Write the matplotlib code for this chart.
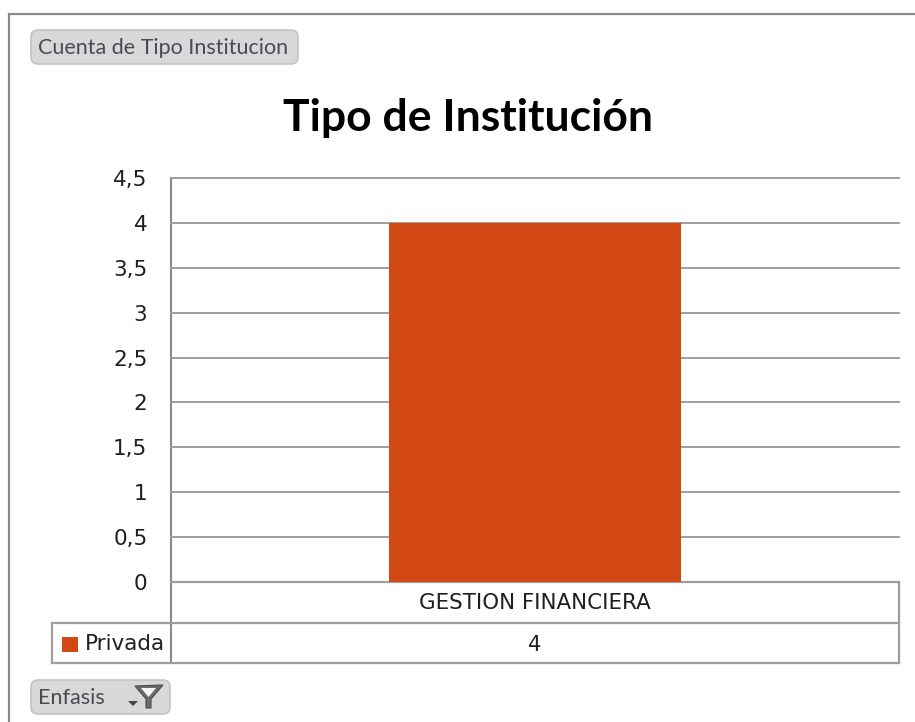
import matplotlib
matplotlib.use('Agg')
import matplotlib.pyplot as plt
from matplotlib.patches import FancyBboxPatch, Rectangle, Polygon

categories = ['GESTION FINANCIERA']
series_name = 'Privada'
values = [4]
y_ticks = [0, 0.5, 1, 1.5, 2, 2.5, 3, 3.5, 4, 4.5]
y_tick_labels = ['0', '0,5', '1', '1,5', '2', '2,5', '3', '3,5', '4', '4,5']

W, H = 915, 722
BAR_COLOR = '#D14815'
LINE = '#9E9E9E'
TEXT = '#1F1F1F'
BTN_TEXT = '#4A4A55'

plt.rcParams['font.family'] = ['DejaVu Sans']

fig = plt.figure(figsize=(W / 100, H / 100), dpi=100, facecolor='white')

# capa de fondo en pixeles: marco, tabla y botones
bg = fig.add_axes([0, 0, 1, 1], zorder=0)
bg.set_xlim(0, W)
bg.set_ylim(H, 0)
bg.axis('off')

bg.plot([9, 9, W], [H, 14, 14], color='#8A8A8A', lw=1.6, solid_joinstyle='miter')


def button(x0, y0, x1, y1, label):
    bg.add_patch(FancyBboxPatch((x0 + 5, y0 + 5), x1 - x0 - 10, y1 - y0 - 10,
                                boxstyle='round,pad=5,rounding_size=7',
                                fc='#D8D8D8', ec='#C4C4C4', lw=1.2))
    bg.text(x0 + 7, (y0 + y1) / 2 + 0.5, label, fontsize=15.5, family='Lato',
            color=BTN_TEXT, va='center', ha='left')


button(31, 30, 298, 64, 'Cuenta de Tipo Institucion')
button(31, 680, 170, 714, 'Enfasis')

# icono del filtro
bg.add_patch(Polygon([[135, 686], [163, 685], [151, 699], [151, 708], [146, 708], [146, 699]],
                     closed=True, fc='#6A6A6A', ec='#4A4A4A', lw=0.8))
bg.add_patch(Polygon([[141, 688], [156, 688], [148.5, 697]], closed=True, fc='#F4F4F4', ec='none'))
bg.add_patch(Polygon([[128, 701], [138, 701], [133, 706]], closed=True, fc='#444444', ec='none'))

# tabla de datos
bg.plot([171, 171], [178, 663], color='#8A8A8A', lw=1.5)
bg.plot([899, 899], [582, 663], color=LINE, lw=1.6)
bg.plot([171, 899], [582, 582], color=LINE, lw=1.6)
bg.plot([52, 899], [623, 623], color=LINE, lw=1.6)
bg.plot([52, 899], [663, 663], color=LINE, lw=1.6)
bg.plot([52, 52], [623, 663], color=LINE, lw=1.6)

ax = fig.add_axes([171 / W, (H - 582) / H, 728 / W, 404 / H], zorder=1)
ax.patch.set_alpha(0)
ax.bar(range(len(categories)), values, width=0.4, color=BAR_COLOR, zorder=3)
ax.set_xlim(-0.5, 0.5)
ax.set_ylim(0, 4.5)
ax.set_yticks(y_ticks)
ax.set_yticklabels(y_tick_labels, fontsize=15.5, color=TEXT)
ax.tick_params(axis='y', length=0, pad=17)
ax.yaxis.grid(True, color=LINE, lw=1.4, zorder=0, clip_on=False)
ax.set_axisbelow(True)
for s in ax.spines.values():
    s.set_visible(False)

ax.set_xticks(range(len(categories)))
ax.set_xticklabels(categories, fontsize=15.4, color=TEXT)
ax.tick_params(axis='x', length=0, pad=8)

# valores de la tabla bajo cada categoria
for i, v in enumerate(values):
    ax.annotate(str(v), xy=(i, 0), xytext=(0, -63 * 72 / 100), textcoords='offset points',
                ha='center', va='center', fontsize=15, color=TEXT, annotation_clip=False)

# leyenda dentro de la tabla
bg.add_patch(Rectangle((62, 637), 16, 15, fc=BAR_COLOR, ec='none'))
bg.text(85, 644, series_name, fontsize=15.5, color=TEXT, va='center', ha='left')

fig.text(468 / W, 1 - 118 / H, 'Tipo de Institución', fontsize=32, fontweight='bold',
         family='Lato', color='black', ha='center', va='center')

fig.savefig('out.png', dpi=100)
